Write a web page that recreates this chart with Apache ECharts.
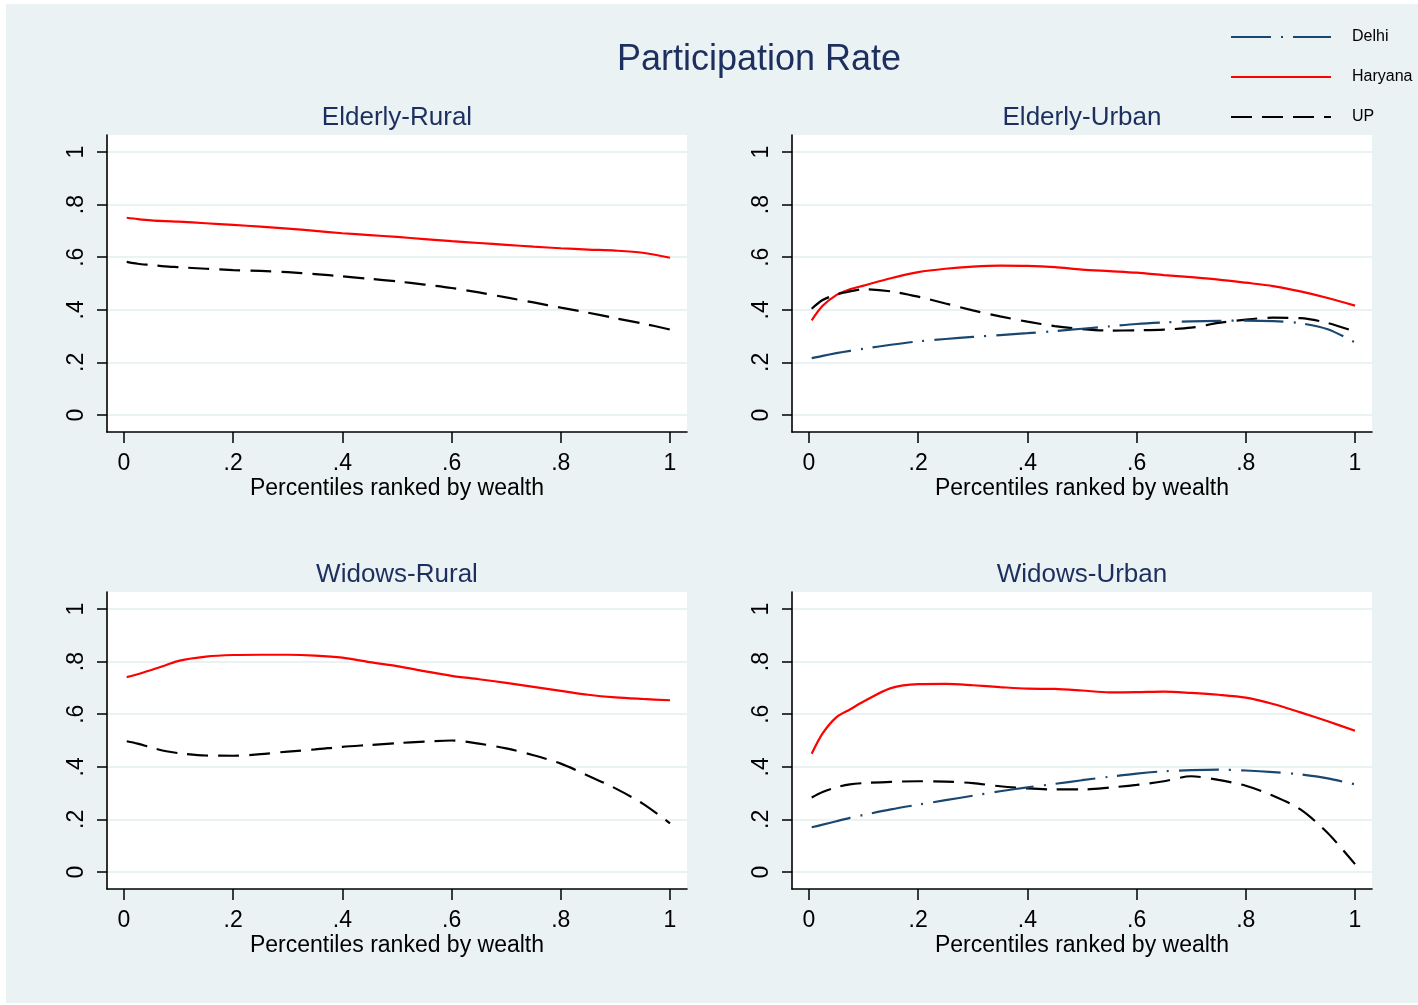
<!DOCTYPE html>
<html>
<head>
<meta charset="utf-8">
<title>Participation Rate</title>
<script src="https://cdn.jsdelivr.net/npm/echarts@6/dist/echarts.min.js"></script>
<style>
  html, body { margin: 0; padding: 0; background: #fff; }
  #chart {
    width: 1418px; height: 1005px;
    background: linear-gradient(#EAF2F3, #EAF2F3) 6px 4px / 1412px 999px no-repeat, #fff;
  }
</style>
</head>
<body>
<div id="chart"></div>
<script>
// Wealth percentile at which each smoothed rate is evaluated
const pct = [0.005, 0.025, 0.05, 0.075, 0.1, 0.15, 0.2, 0.25, 0.3, 0.35, 0.4, 0.45,
             0.5, 0.55, 0.6, 0.65, 0.7, 0.75, 0.8, 0.85, 0.9, 0.95, 1.0];

// Axis tick positions and labels
const tickValues = [0, 0.2, 0.4, 0.6, 0.8, 1];
const tickLabels = ['0', '.2', '.4', '.6', '.8', '1'];

const panelTitles = ['Elderly-Rural', 'Elderly-Urban', 'Widows-Rural', 'Widows-Urban'];
const stateNames = ['Delhi', 'Haryana', 'UP'];

// Elderly, rural
const elderlyRuralHaryana = [0.750, 0.745, 0.740, 0.737, 0.735, 0.729, 0.723, 0.716, 0.709, 0.700, 0.691, 0.684,
                             0.677, 0.669, 0.661, 0.654, 0.647, 0.640, 0.634, 0.629, 0.625, 0.617, 0.598];
const elderlyRuralUP      = [0.582, 0.575, 0.570, 0.565, 0.562, 0.556, 0.551, 0.548, 0.543, 0.536, 0.527, 0.518,
                             0.508, 0.496, 0.483, 0.466, 0.447, 0.428, 0.408, 0.389, 0.368, 0.348, 0.325];

// Elderly, urban
const elderlyUrbanDelhi   = [0.216, 0.225, 0.235, 0.244, 0.252, 0.267, 0.280, 0.289, 0.297, 0.304, 0.311, 0.319,
                             0.328, 0.337, 0.346, 0.352, 0.356, 0.358, 0.359, 0.357, 0.349, 0.326, 0.276];
const elderlyUrbanHaryana = [0.360, 0.415, 0.456, 0.478, 0.492, 0.520, 0.543, 0.556, 0.564, 0.568, 0.567, 0.562,
                             0.553, 0.547, 0.541, 0.532, 0.524, 0.515, 0.503, 0.490, 0.470, 0.445, 0.416];
const elderlyUrbanUP      = [0.404, 0.437, 0.458, 0.470, 0.478, 0.470, 0.450, 0.424, 0.398, 0.375, 0.355, 0.338,
                             0.327, 0.321, 0.322, 0.325, 0.332, 0.350, 0.363, 0.370, 0.368, 0.350, 0.317];

// Widows, rural
const widowsRuralHaryana  = [0.741, 0.752, 0.768, 0.785, 0.803, 0.819, 0.825, 0.826, 0.826, 0.823, 0.815, 0.798,
                             0.783, 0.764, 0.746, 0.733, 0.719, 0.704, 0.689, 0.674, 0.664, 0.658, 0.653];
const widowsRuralUP       = [0.497, 0.488, 0.473, 0.460, 0.452, 0.443, 0.442, 0.448, 0.458, 0.466, 0.476, 0.483,
                             0.490, 0.496, 0.500, 0.488, 0.470, 0.444, 0.412, 0.366, 0.318, 0.260, 0.185];

// Widows, urban
const widowsUrbanDelhi    = [0.170, 0.180, 0.193, 0.206, 0.217, 0.238, 0.256, 0.273, 0.290, 0.307, 0.322, 0.335,
                             0.349, 0.362, 0.374, 0.383, 0.387, 0.389, 0.386, 0.380, 0.371, 0.356, 0.333];
const widowsUrbanHaryana  = [0.450, 0.527, 0.588, 0.618, 0.648, 0.699, 0.714, 0.715, 0.710, 0.703, 0.697, 0.696,
                             0.690, 0.683, 0.684, 0.686, 0.681, 0.674, 0.663, 0.639, 0.607, 0.573, 0.537];
const widowsUrbanUP       = [0.283, 0.304, 0.322, 0.333, 0.338, 0.343, 0.345, 0.344, 0.338, 0.326, 0.318, 0.314,
                             0.314, 0.321, 0.331, 0.345, 0.364, 0.350, 0.328, 0.290, 0.238, 0.148, 0.030];

// Which series belong to which panel (null = not drawn)
const panelData = [
  { Delhi: null,              Haryana: elderlyRuralHaryana, UP: elderlyRuralUP },
  { Delhi: elderlyUrbanDelhi, Haryana: elderlyUrbanHaryana, UP: elderlyUrbanUP },
  { Delhi: null,              Haryana: widowsRuralHaryana,  UP: widowsRuralUP },
  { Delhi: widowsUrbanDelhi,  Haryana: widowsUrbanHaryana,  UP: widowsUrbanUP }
];

// Panel plot regions (Stata-style: data range inset from the axes)
const gridBoxes = [
  { left: 107, top: 135 }, { left: 792, top: 135 },
  { left: 107, top: 592 }, { left: 792, top: 592 }
];
const PLOT_W = 580, PLOT_H = 297;
const PAD = 0.0311, PAD_Y = 0.0646;

const lineStyles = {
  Delhi:   { color: '#1A476F', width: 2.2, type: [40, 10, 2, 10] },
  Haryana: { color: '#FF0000', width: 2.2, type: 'solid' },
  UP:      { color: '#000000', width: 2.2, type: [21, 10] }
};

const FONT = 'Liberation Sans, Arial, sans-serif';
const NAVY = '#1C2F5E';

const labelFmt = v => {
  const i = tickValues.findIndex(t => Math.abs(t - v) < 1e-9);
  return i >= 0 ? tickLabels[i] : '';
};

const grids = gridBoxes.map(b => ({
  left: b.left, top: b.top, width: PLOT_W, height: PLOT_H,
  show: true, backgroundColor: '#FFFFFF', borderWidth: 0, containLabel: false
}));

const xAxes = gridBoxes.map((b, i) => ({
  type: 'value', gridIndex: i, min: -PAD, max: 1 + PAD,
  name: 'Percentiles ranked by wealth', nameLocation: 'middle', nameGap: 45,
  nameTextStyle: { fontFamily: FONT, fontSize: 23, color: '#000' },
  axisLine: { show: true, onZero: false, lineStyle: { color: '#000', width: 1.6 } },
  axisTick: { show: true, length: 11, customValues: tickValues, lineStyle: { color: '#000', width: 1.5 } },
  axisLabel: { customValues: tickValues, formatter: labelFmt, margin: 20,
               fontFamily: FONT, fontSize: 23, color: '#000' },
  splitLine: { show: false }
}));

const yAxes = gridBoxes.map((b, i) => ({
  type: 'value', gridIndex: i, min: -PAD_Y, max: 1 + PAD_Y,
  axisLine: { show: true, onZero: false, lineStyle: { color: '#000', width: 1.6 } },
  axisTick: { show: true, length: 10, customValues: tickValues, lineStyle: { color: '#000', width: 1.5 } },
  axisLabel: { customValues: tickValues, formatter: labelFmt, margin: 19, rotate: 90,
               fontFamily: FONT, fontSize: 23, color: '#000' },
  splitLine: { show: true, lineStyle: { color: '#EAF2F3', width: 2 } }
}));

const series = [];
panelData.forEach((panel, i) => {
  stateNames.forEach(name => {
    const ys = panel[name];
    if (!ys) return;
    series.push({
      type: 'line', name, xAxisIndex: i, yAxisIndex: i,
      data: pct.map((x, k) => [x, ys[k]]),
      symbol: 'none', showSymbol: false, smooth: 0.3,
      lineStyle: lineStyles[name], itemStyle: { color: lineStyles[name].color },
      silent: true, animation: false, z: name === 'Delhi' ? 3 : 2
    });
  });
});

const titles = [{
  text: 'Participation Rate', left: 759, top: 42, textAlign: 'center', padding: 0,
  textStyle: { fontFamily: FONT, fontSize: 36, fontWeight: 'normal', color: NAVY }
}].concat(panelTitles.map((t, i) => ({
  text: t, left: gridBoxes[i].left + PLOT_W / 2, top: gridBoxes[i].top - 30,
  textAlign: 'center', padding: 0,
  textStyle: { fontFamily: FONT, fontSize: 26, fontWeight: 'normal', color: NAVY }
})));

const chart = echarts.init(document.getElementById('chart'), null, { renderer: 'canvas' });
chart.setOption({
  backgroundColor: 'transparent',
  animation: false,
  title: titles,
  legend: {
    data: stateNames, orient: 'vertical', left: 1230, top: 29, padding: 0,
    itemWidth: 100, itemHeight: 14, itemGap: 24, selectedMode: false,
    itemStyle: { opacity: 0 },
    textStyle: { fontFamily: FONT, fontSize: 16, color: '#000', padding: [0, 0, 0, 16] }
  },
  grid: grids,
  xAxis: xAxes,
  yAxis: yAxes,
  series
});
</script>
</body>
</html>
